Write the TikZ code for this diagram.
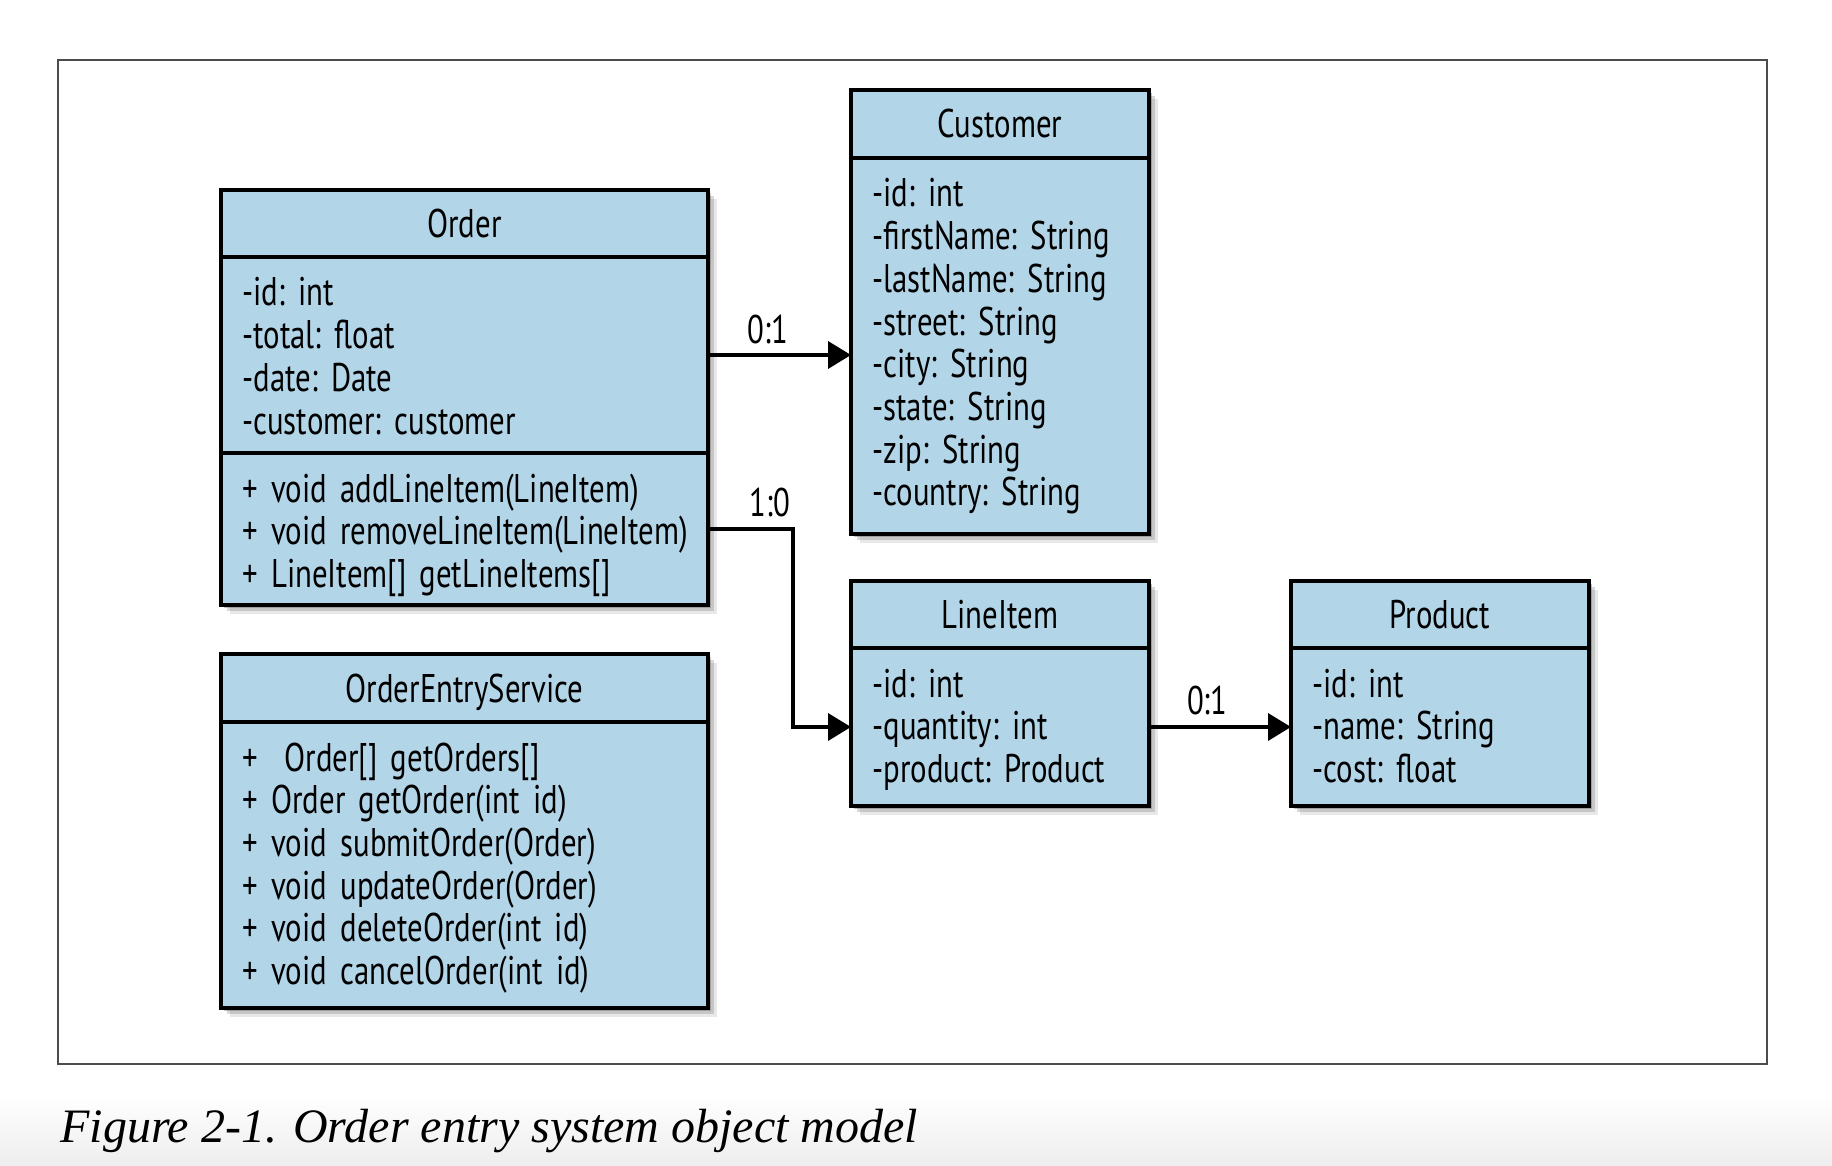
\documentclass[tikz,border=0pt]{standalone}
\usepackage{fontspec}
\usepackage{xcolor}
\usepackage{tikz}
\usetikzlibrary{positioning,arrows.meta,shadows}

\newfontfamily\umlfont{PT Sans}[FakeStretch=0.77, WordSpace=0.7]
\newfontfamily\capfont{Liberation Serif}
\newcommand{\memberfont}{\umlfont\fontsize{20pt}{21.35pt}\selectfont\frenchspacing}

\definecolor{umlblue}{RGB}{179,213,232}

\tikzstyle{node:class}=[draw=black, line width=2.2pt, fill=umlblue, outer sep=0pt, inner sep=0pt,
  drop shadow={shadow xshift=1.5pt, shadow yshift=-1.5pt, opacity=.3, fill=black!75},
  drop shadow={shadow xshift=3pt, shadow yshift=-3pt, opacity=.2, fill=black!75},
  drop shadow={shadow xshift=4.5pt, shadow yshift=-4.5pt, opacity=.12, fill=black!75}]
\tikzstyle{node:wide}=[minimum width=243.5pt]
\tikzstyle{node:narrow}=[minimum width=149pt]
\tikzstyle{node:head}=[node:class, font=\memberfont, text height=14pt, text depth=0pt]
\tikzstyle{node:members}=[anchor=base west, inner sep=0pt, align=left, text width=300pt, font=\memberfont]
\tikzstyle{node:mult}=[inner sep=0pt, font=\umlfont\fontsize{20pt}{21pt}\selectfont]
\tikzstyle{draw:assoc}=[-{Triangle[length=11.5pt,width=13.5pt]}, line width=1.8pt, line join=miter]

\begin{document}
\begin{tikzpicture}[x=0.5pt, y=-0.5pt]
        \useasboundingbox (0,0) rectangle (1832,1166);

        % Page edge and figure frame
        \shade[top color=white, bottom color=black!7] (0,1095) rectangle (1832,1166);
        \draw[black!70, line width=1pt] (58,60) rectangle (1767,1064);

        % Order
        \node[node:head, node:wide, minimum height=33.5pt] (order_head) at (464.5,223.5) {Order};
        \node[node:class, node:wide, minimum height=98pt, below=0pt of order_head] (order_attr) {};
        \node[node:class, node:wide, minimum height=76pt, below=0pt of order_attr] (order_ops) {};

        % OrderEntryService
        \node[node:head, node:wide, minimum height=34pt] (oes_head) at (464.5,688) {OrderEntryService};
        \node[node:class, node:wide, minimum height=143pt, below=0pt of oes_head] (oes_ops) {};

        % Customer
        \node[node:head, node:narrow, minimum height=34pt] (customer_head) at (1000,124) {Customer};
        \node[node:class, node:narrow, minimum height=188pt, below=0pt of customer_head] (customer_body) {};

        % LineItem
        \node[node:head, node:narrow, minimum height=33.5pt] (lineitem_head) at (1000,614.5) {LineItem};
        \node[node:class, node:narrow, minimum height=79pt, below=0pt of lineitem_head] (lineitem_body) {};

        % Product
        \node[node:head, node:narrow, minimum height=33.5pt] (product_head) at (1440,614.5) {Product};
        \node[node:class, node:narrow, minimum height=79pt, below=0pt of product_head] (product_body) {};

        % Members
        \node[node:members] (order_attr_txt) at ([xshift=10.5pt, yshift=-24.5pt]order_attr.north west)
            {-id: int\\-total: float\\-date: Date\\-customer: customer};
        \node[node:members] (order_ops_txt) at ([xshift=10.5pt, yshift=-24.5pt]order_ops.north west)
            {+ void addLineItem(LineItem)\\+ void removeLineItem(LineItem)\\+ LineItem[] getLineItems[]};
        \node[node:members] (oes_ops_txt) at ([xshift=10.5pt, yshift=-24.5pt]oes_ops.north west)
            {+~ Order[] getOrders[]\\+ Order getOrder(int id)\\+ void submitOrder(Order)\\+ void updateOrder(Order)\\+ void deleteOrder(int id)\\+ void cancelOrder(int id)};
        \node[node:members] (customer_txt) at ([xshift=10.5pt, yshift=-24.5pt]customer_body.north west)
            {-id: int\\-firstName: String\\-lastName: String\\-street: String\\-city: String\\-state: String\\-zip: String\\-country: String};
        \node[node:members] (lineitem_txt) at ([xshift=10.5pt, yshift=-24.5pt]lineitem_body.north west)
            {-id: int\\-quantity: int\\-product: Product};
        \node[node:members] (product_txt) at ([xshift=10.5pt, yshift=-24.5pt]product_body.north west)
            {-id: int\\-name: String\\-cost: float};

        % Associations
        \draw[draw:assoc] (order_attr.east) -- node[node:mult, pos=.42, above=4.5pt] (mult_customer) {0:1} (order_attr.east -| customer_body.west);
        \draw[draw:assoc] (order_ops.east) -- node[node:mult, pos=.73, above=5pt] (mult_lineitem) {1:0} ++(85,0) |- (lineitem_body.west);
        \draw[draw:assoc] (lineitem_body.east) -- node[node:mult, pos=.41, above=5pt] (mult_product) {0:1} (product_body.west);

        % Caption
        \node[anchor=base west, inner sep=0pt, font=\capfont\itshape\fontsize{24pt}{28pt}\selectfont] (caption) at (60,1142)
            {Figure 2-1. Order entry system object model};

    \end{tikzpicture}
\end{document}
